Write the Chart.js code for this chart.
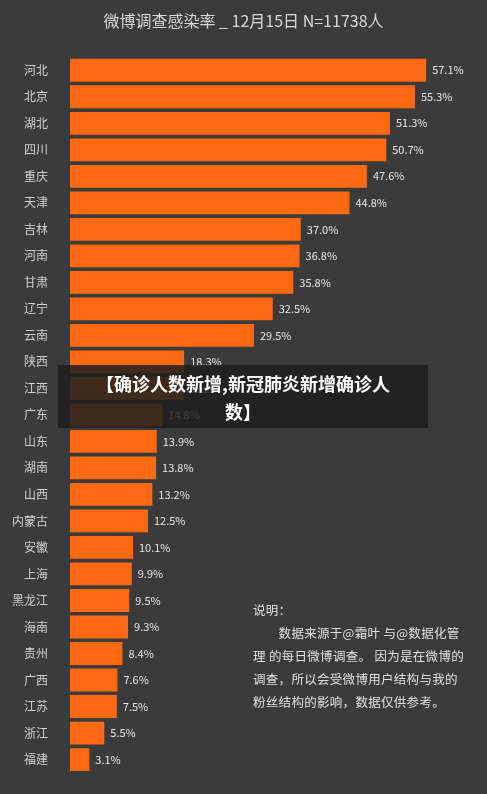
<!DOCTYPE html><html><head><meta charset="utf-8">
<script src="https://cdn.jsdelivr.net/npm/chart.js@4"></script>
<style>body{margin:0;background:#3b3b3b;font-family:"Noto Sans CJK SC",sans-serif;}
#w{position:relative;width:487px;height:794px;}
#t{position:absolute;top:8px;left:0;width:487px;text-align:center;color:#d8d8d8;font-size:16px;}
#b{position:absolute;left:58px;top:365px;width:370px;height:63px;background:rgba(30,30,30,0.85);color:#fff;font-weight:bold;font-size:18px;text-align:center;line-height:28px;padding-top:4px;box-sizing:border-box;}
#n{position:absolute;left:253px;top:598px;width:212px;color:#e0e0e0;font-size:12.5px;line-height:23px;letter-spacing:0.3px;}
</style></head><body><div id="w">
<canvas id="c" width="487" height="794"></canvas>
<div id="t">微博调查感染率 _ 12月15日 N=11738人</div>
<div id="n">说明：<br>&emsp;&emsp;数据来源于@霜叶 与@数据化管理 的每日微博调查。 因为是在微博的调查，所以会受微博用户结构与我的粉丝结构的影响，数据仅供参考。</div>
<div id="b">【确诊人数新增,新冠肺炎新增确诊人<br>数】</div>
</div>
<script>
const categories=["河北","北京","湖北","四川","重庆","天津","吉林","河南","甘肃","辽宁","云南","陕西","江西","广东","山东","湖南","山西","内蒙古","安徽","上海","黑龙江","海南","贵州","广西","江苏","浙江","福建"];
const values=[57.1,55.3,51.3,50.7,47.6,44.8,37.0,36.8,35.8,32.5,29.5,18.3,18.2,14.8,13.9,13.8,13.2,12.5,10.1,9.9,9.5,9.3,8.4,7.6,7.5,5.5,3.1];
const labelPlugin={id:'lbl',afterDatasetsDraw(ch){const ctx=ch.ctx;const m=ch.getDatasetMeta(0);ctx.save();ctx.font='11px "Noto Sans CJK SC"';ctx.fillStyle='#e6e6e6';ctx.textBaseline='middle';m.data.forEach((b,i)=>{ctx.fillText(values[i].toFixed(1)+'%',b.x+6,b.y);});ctx.restore();}};
Chart.defaults.font.family='"Noto Sans CJK SC"';
new Chart(document.getElementById('c'),{type:'bar',data:{labels:categories,datasets:[{data:values,backgroundColor:'#ff6a10',categoryPercentage:1,barPercentage:0.86}]},
options:{indexAxis:'y',responsive:false,animation:false,layout:{padding:{top:57,bottom:15,right:49,left:0}},
plugins:{legend:{display:false},tooltip:{enabled:false}},
scales:{x:{display:false,min:0,max:59},y:{afterFit(s){s.width=70;},grid:{display:false},border:{display:false},ticks:{color:'#d0d0d0',font:{size:12},padding:14}}}},plugins:[labelPlugin]});
</script></body></html>
